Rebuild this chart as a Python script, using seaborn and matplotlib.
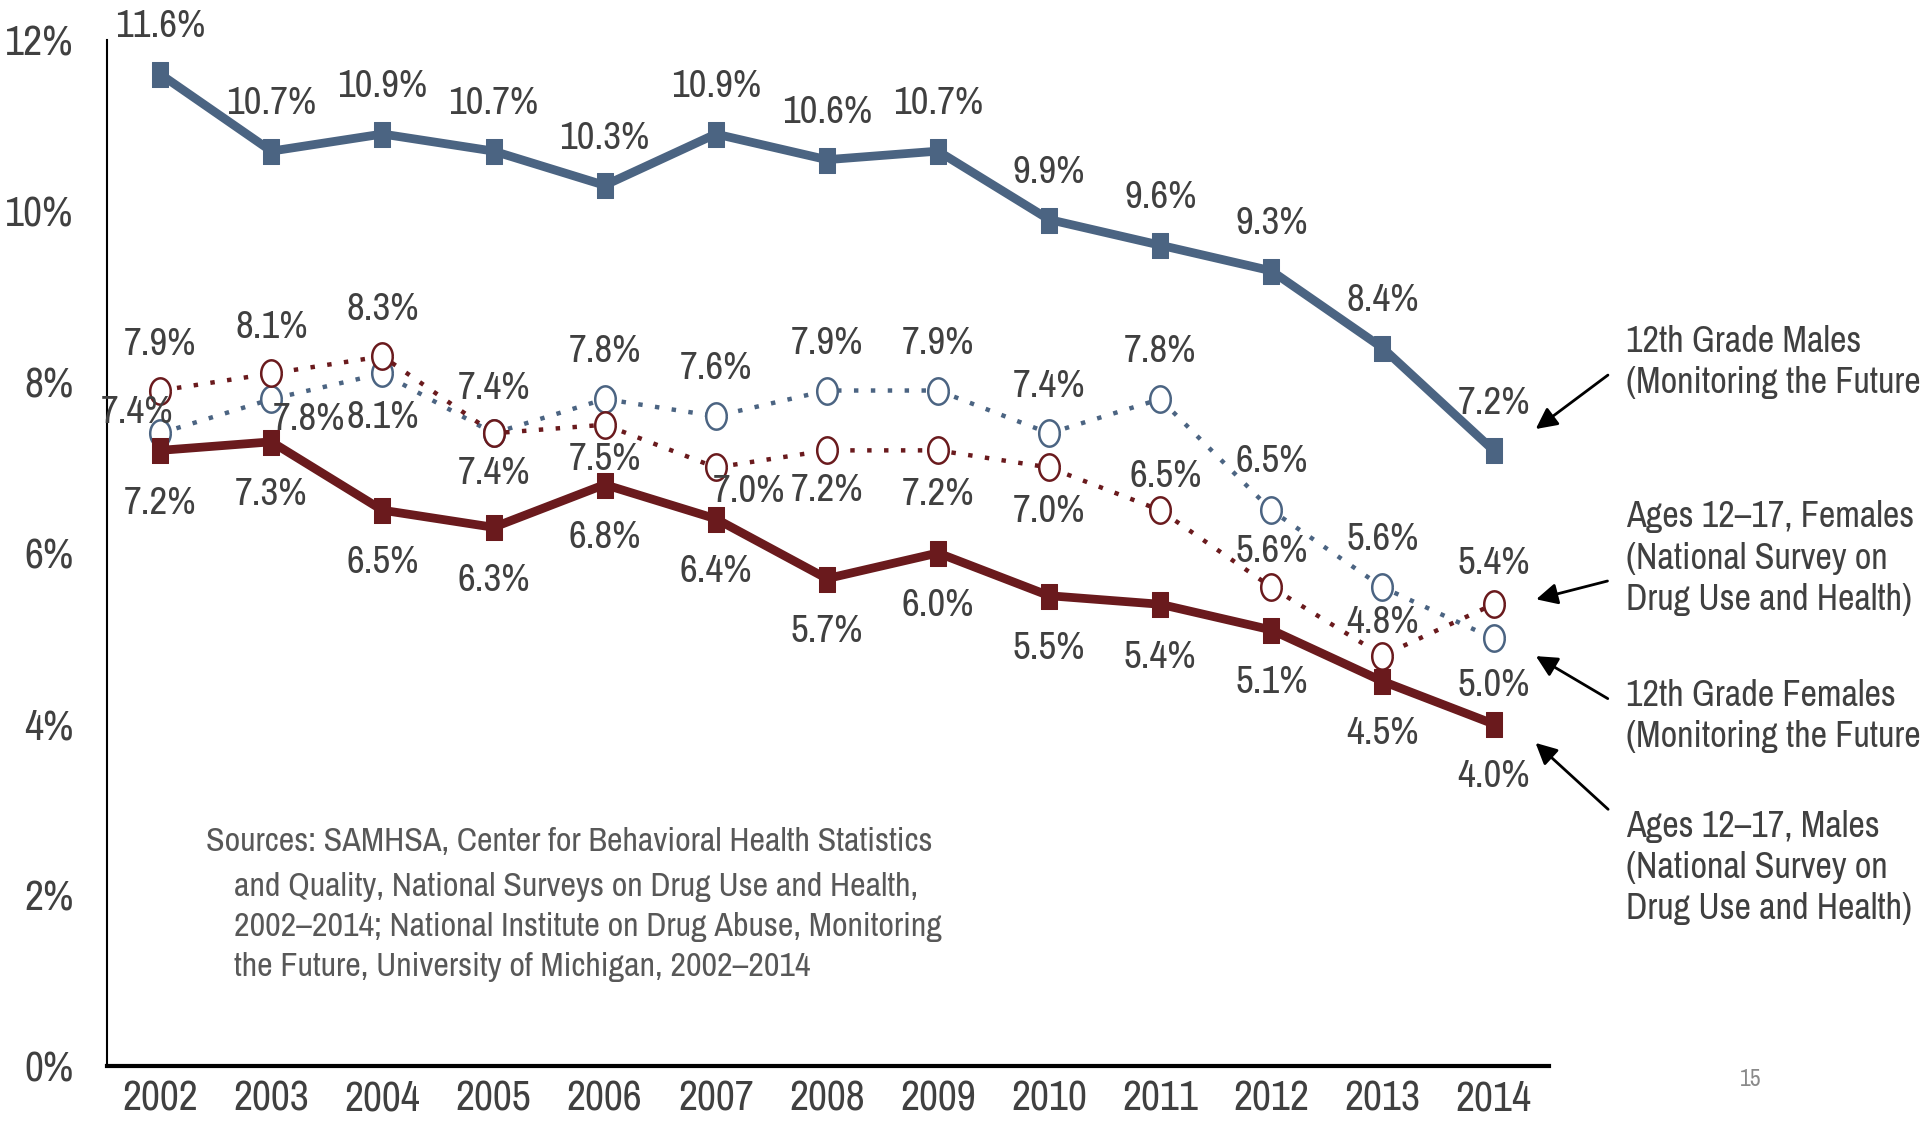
import numpy as np
import pandas as pd
import seaborn as sns
import matplotlib.pyplot as plt
from matplotlib import font_manager


# data
years = list(range(2002, 2015))
males_12th = [11.6, 10.7, 10.9, 10.7, 10.3, 10.9, 10.6, 10.7, 9.9, 9.6, 9.3, 8.4, 7.2]
males_12_17 = [7.2, 7.3, 6.5, 6.3, 6.8, 6.4, 5.7, 6.0, 5.5, 5.4, 5.1, 4.5, 4.0]
females_12_17 = [7.9, 8.1, 8.3, 7.4, 7.5, 7.0, 7.2, 7.2, 7.0, 6.5, 5.6, 4.8, 5.4]
females_12th = [7.4, 7.8, 8.1, 7.4, 7.8, 7.6, 7.9, 7.9, 7.4, 7.8, 6.5, 5.6, 5.0]
y_ticks = [0, 2, 4, 6, 8, 10, 12]

series_names = [
    "12th Grade Males\n(Monitoring the Future)",
    "Ages 12\u201317, Females\n(National Survey on\nDrug Use and Health)",
    "12th Grade Females\n(Monitoring the Future)",
    "Ages 12\u201317, Males\n(National Survey on\nDrug Use and Health)",
]
source_text = ["Sources: SAMHSA, Center for Behavioral Health Statistics",
               "and Quality, National Surveys on Drug Use and Health,\n"
               "2002\u20132014; National Institute on Drug Abuse, Monitoring\n"
               "the Future, University of Michigan, 2002\u20132014"]

# label offsets (points) for each value label
off_m12 = [(0, 34)] * 13
off_m1217 = [(0, -38)] * 13
off_f1217 = [(0, 33), (0, 33), (0, 34), (0, 32), (0, -25), (24, -17), (0, -29),
             (0, -32), (0, -32), (4, 24), (0, 26), (0, 24), (0, 29)]
off_f12 = [(-17, 15), (27, -15), (0, -32), (0, -29), (0, 34), (0, 34), (0, 34),
           (0, 34), (0, 34), (0, 34), (0, 35), (0, 34), (0, -34)]

df = pd.DataFrame({"year": years, "m12": males_12th, "m1217": males_12_17,
                   "f1217": females_12_17, "f12": females_12th})

sns.set_theme(style="white")
names = {f.name for f in font_manager.fontManager.ttflist}
fam = "DejaVu Sans"
for cand in ["Liberation Sans Narrow", "Arial Narrow", "Archivo Narrow",
             "PT Sans Narrow", "Liberation Sans"]:
    if cand in names:
        fam = cand
        break
plt.rcParams["font.family"] = [fam, "DejaVu Sans"]

blue = "#4b6482"
red = "#6a1a1d"
txt = "#404040"

# tall markers (the original is squeezed horizontally)
sq = [(-0.65, -1), (0.65, -1), (0.65, 1), (-0.65, 1), (-0.65, -1)]
t = np.linspace(0, 2 * np.pi, 41)
circ = list(zip(0.78 * np.cos(t), np.sin(t)))
dots = (0, (1, 2.8))

fig = plt.figure(figsize=(19.2, 11.23), dpi=100)
ax = fig.add_axes([0.0557, 0.0508, 0.8068 - 0.0557, 0.9644 - 0.0508])

sns.lineplot(data=df, x="year", y="f12", ax=ax, color=blue, lw=3.2, linestyle=dots,
             marker=circ, markersize=19, mfc="white", mec=blue, mew=1.8, legend=False, zorder=3)
sns.lineplot(data=df, x="year", y="f1217", ax=ax, color=red, lw=3.2, linestyle=dots,
             marker=circ, markersize=19, mfc="white", mec=red, mew=1.8, legend=False, zorder=3)
sns.lineplot(data=df, x="year", y="m12", ax=ax, color=blue, lw=6.3,
             marker=sq, markersize=18, mfc=blue, mec=blue, legend=False, zorder=4)
sns.lineplot(data=df, x="year", y="m1217", ax=ax, color=red, lw=6.3,
             marker=sq, markersize=18, mfc=red, mec=red, legend=False, zorder=4)

for col, offs in [("m12", off_m12), ("m1217", off_m1217), ("f1217", off_f1217), ("f12", off_f12)]:
    for x, v, o in zip(df["year"], df[col], offs):
        ax.annotate(f"{v:.1f}%", (x, v), xytext=o, textcoords="offset points",
                    ha="center", va="center", fontsize=28, color=txt,
                    annotation_clip=False, zorder=5)

ax.set_xlim(2001.52, 2014.5)
ax.set_ylim(0, 12)
ax.set_xticks(years)
ax.set_xticklabels([str(y) for y in years])
ax.set_yticks(y_ticks)
ax.set_yticklabels([f"{v}%" for v in y_ticks])
ax.tick_params(axis="y", length=0, pad=24, labelsize=30, labelcolor=txt)
ax.tick_params(axis="x", length=0, pad=10, labelsize=30, labelcolor=txt)
ax.set_xlabel("")
ax.set_ylabel("")
sns.despine(ax=ax)
ax.spines["left"].set_linewidth(1.5)
ax.spines["bottom"].set_linewidth(3)
ax.spines["left"].set_color("black")
ax.spines["bottom"].set_color("black")

# right-side series labels with arrows
label_y = [8.23, 5.94, 4.09, 2.32]
arrow_tail = [8.10, 5.68, 4.28, 2.98]
arrow_tip = [7.43, 5.45, 4.81, 3.80]
for name, ly, ty, hy in zip(series_names, label_y, arrow_tail, arrow_tip):
    ax.text(2015.19, ly, name, ha="left", va="center", fontsize=26, color=txt,
            linespacing=1.3, clip_on=False)
    ax.annotate("", xy=(2014.36, hy), xytext=(2015.05, ty),
                arrowprops=dict(arrowstyle="-|>", color="black", lw=2, mutation_scale=32),
                annotation_clip=False)

ax.text(2002.41, 2.62, source_text[0], ha="left", va="center", fontsize=24.5,
        color="#585858")
ax.text(2002.66, 1.63, source_text[1], ha="left", va="center", fontsize=24.5,
        color="#585858", linespacing=1.42)

fig.text(1751 / 1920, 1 - 1079 / 1123, "15", ha="center", va="center",
         fontsize=17, color="#8a8a8a")

fig.savefig("out.png", dpi=100)
